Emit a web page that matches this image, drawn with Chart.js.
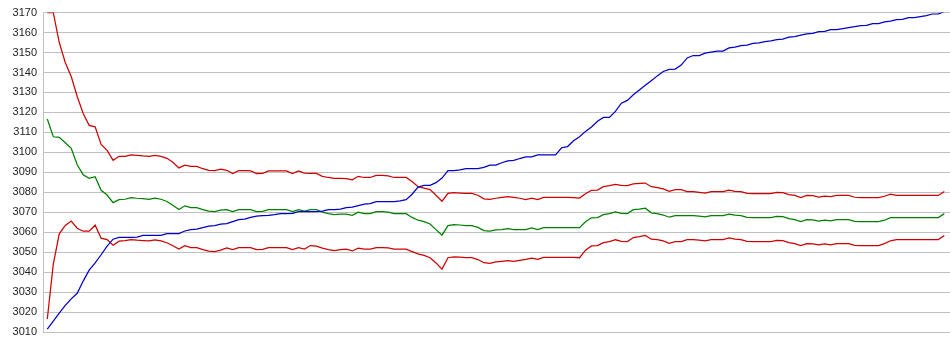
<!DOCTYPE html>
<html>
<head>
<meta charset="utf-8">
<script src="https://cdn.jsdelivr.net/npm/chart.js@4/dist/chart.umd.min.js"></script>
<style>
  html, body { margin: 0; padding: 0; background: #ffffff; }
  #wrap { width: 950px; height: 355px; }
</style>
</head>
<body>
<div id="wrap"><canvas id="c" width="950" height="355"></canvas></div>
<script>
// x categories: sample index 0..150
const categories = Array.from({length: 151}, (_, i) => i);

const yTicks = [3010, 3020, 3030, 3040, 3050, 3060, 3070, 3080, 3090, 3100, 3110, 3120, 3130, 3140, 3150, 3160, 3170];

const upperBand = [
  3170, 3170, 3155, 3145, 3138, 3128, 3119.5, 3113.5, 3112.8, 3104,
  3101, 3096, 3098, 3098, 3098.7, 3098.5, 3098.2, 3098, 3098.5, 3098,
  3097, 3095, 3092.2, 3093.6, 3093, 3093, 3091.8, 3091, 3090.8, 3091.6,
  3091, 3089.4, 3090.8, 3090.8, 3090.7, 3089.4, 3089.5, 3090.7, 3090.7, 3090.7,
  3090.7, 3089.4, 3090.7, 3089.6, 3089.4, 3089.4, 3088, 3087.4, 3087, 3087,
  3086.8, 3086.2, 3088, 3087.4, 3087.4, 3088.4, 3088.4, 3088.2, 3087.4, 3087.4,
  3087.4, 3085.4, 3082.8, 3082.1, 3081.3, 3078.5, 3075.5, 3079.4, 3079.8, 3079.6,
  3079.4, 3079.4, 3078.5, 3076.7, 3076.4, 3077, 3077.4, 3077.8, 3077.4, 3077,
  3076.3, 3077.1, 3076.3, 3077.4, 3077.4, 3077.4, 3077.4, 3077.4, 3077.3, 3077.1,
  3079.3, 3081, 3081.1, 3082.8, 3083.3, 3084, 3083.4, 3083.3, 3084.2, 3084.4,
  3084.6, 3082.8, 3082.3, 3081.7, 3080.5, 3081.3, 3081.3, 3080.3, 3080.3, 3080,
  3079.6, 3080.3, 3080.3, 3080.3, 3081.1, 3080.5, 3080.3, 3079.4, 3079.3, 3079.3,
  3079.3, 3079.3, 3079.9, 3079.8, 3078.8, 3078.4, 3077.3, 3078.4, 3078.3, 3077.6,
  3078.1, 3077.8, 3078.4, 3078.4, 3078.4, 3077.5, 3077.3, 3077.3, 3077.3, 3077.3,
  3078, 3079.1, 3078.4, 3078.4, 3078.4, 3078.4, 3078.4, 3078.4, 3078.4, 3078.4,
  3080.4
];

const middleBand = [
  3116.7, 3107.8, 3107.5, 3104.8, 3102, 3093.8, 3088.8, 3087, 3087.8, 3081,
  3078.6, 3074.8, 3076.3, 3076.5, 3077.3, 3077, 3076.8, 3076.5, 3077, 3076.5,
  3075.4, 3073.5, 3071.4, 3073.2, 3072.3, 3072.3, 3071.3, 3070.5, 3070.3, 3071,
  3071.3, 3070.3, 3071.3, 3071.3, 3071.3, 3070.3, 3070.4, 3071.3, 3071.3, 3071.3,
  3071.3, 3070.3, 3071.3, 3070.5, 3071.3, 3071.3, 3070, 3069.3, 3068.8, 3069,
  3069.1, 3068.4, 3070, 3069.3, 3069.3, 3070.3, 3070.3, 3070.1, 3069.3, 3069.3,
  3069.3, 3067.4, 3066, 3065.3, 3064.1, 3061.3, 3058.5, 3063.3, 3063.8, 3063.6,
  3063.3, 3063.3, 3062.4, 3060.8, 3060.5, 3061.1, 3061.3, 3061.8, 3061.3, 3061.3,
  3061.3, 3062.1, 3061.3, 3062.3, 3062.3, 3062.3, 3062.3, 3062.3, 3062.3, 3062.3,
  3065.2, 3067.2, 3067.3, 3068.8, 3069.3, 3070.2, 3069.4, 3069.3, 3071.3, 3071.5,
  3072, 3069.7, 3069.3, 3068.6, 3067.5, 3068.3, 3068.3, 3068.3, 3068.3, 3068,
  3067.7, 3068.3, 3068.3, 3068.3, 3069.1, 3068.5, 3068.3, 3067.4, 3067.3, 3067.3,
  3067.3, 3067.3, 3067.9, 3067.8, 3066.8, 3066.3, 3065.3, 3066.3, 3066.2, 3065.6,
  3066.1, 3065.7, 3066.3, 3066.3, 3066.3, 3065.4, 3065.3, 3065.3, 3065.3, 3065.3,
  3066, 3067.3, 3067.3, 3067.3, 3067.3, 3067.3, 3067.3, 3067.3, 3067.3, 3067.3,
  3069.3
];

const lowerBand = [
  3016.5, 3044, 3059.2, 3063.4, 3065.6, 3062, 3060.5, 3060.5, 3063.5, 3057,
  3056.3, 3053.5, 3055.5, 3055.8, 3056.3, 3056, 3055.8, 3055.6, 3056.1, 3055.6,
  3054.7, 3053.2, 3051.5, 3053.2, 3052.3, 3052.3, 3051.3, 3050.5, 3050.3, 3051,
  3052.1, 3051.3, 3052.3, 3052.3, 3052.3, 3051.3, 3051.4, 3052.3, 3052.3, 3052.3,
  3052.3, 3051.3, 3052.3, 3051.5, 3053.3, 3053, 3052, 3051.3, 3050.8, 3051.3,
  3051.5, 3050.6, 3052, 3051.5, 3051.5, 3052.3, 3052.3, 3052.1, 3051.5, 3051.5,
  3051.5, 3050.3, 3049.1, 3048.4, 3047.2, 3044.6, 3041.5, 3047.2, 3047.6, 3047.5,
  3047.2, 3047.2, 3046.3, 3044.7, 3044.4, 3045.1, 3045.4, 3045.7, 3045.4, 3045.9,
  3046.4, 3047, 3046.4, 3047.4, 3047.4, 3047.4, 3047.4, 3047.4, 3047.4, 3047.2,
  3051, 3053.1, 3053.3, 3054.8, 3055.3, 3056.2, 3055.4, 3055.3, 3057.3, 3057.8,
  3058.4, 3056.5, 3056.3, 3055.6, 3054.4, 3055.3, 3055.3, 3056.3, 3056.3, 3056,
  3055.7, 3056.3, 3056.3, 3056.3, 3057.1, 3056.5, 3056.3, 3055.4, 3055.3, 3055.3,
  3055.3, 3055.3, 3055.9, 3055.8, 3054.8, 3054.3, 3053.3, 3054.3, 3054.2, 3053.6,
  3054.1, 3053.7, 3054.3, 3054.3, 3054.3, 3053.4, 3053.3, 3053.3, 3053.3, 3053.3,
  3054.3, 3055.7, 3056.3, 3056.3, 3056.3, 3056.3, 3056.3, 3056.3, 3056.3, 3056.3,
  3058.3
];

const blueSeries = [
  3011.5, 3015.5, 3019.4, 3023.3, 3026.6, 3029.4, 3035.5, 3041, 3044.6, 3048.7,
  3053, 3056.5, 3057.4, 3057.4, 3057.4, 3057.5, 3058.4, 3058.4, 3058.4, 3058.4,
  3059.3, 3059.3, 3059.3, 3060.6, 3061.3, 3061.5, 3062.3, 3063, 3063.3, 3064,
  3064.3, 3065.3, 3066.3, 3066.6, 3067.4, 3068, 3068.3, 3068.4, 3068.8, 3069.3,
  3069.3, 3069.4, 3070.3, 3070.3, 3070.3, 3070.3, 3070.5, 3071.3, 3071.3, 3071.6,
  3072.3, 3072.6, 3073.3, 3074, 3074.3, 3075.3, 3075.3, 3075.3, 3075.3, 3075.7,
  3076.3, 3079, 3082.6, 3083.4, 3083.5, 3084.8, 3087.1, 3090.8, 3090.8, 3091.2,
  3091.8, 3091.8, 3091.8, 3092.5, 3093.6, 3093.6, 3094.8, 3095.7, 3096, 3096.9,
  3097.7, 3097.7, 3098.7, 3098.7, 3098.7, 3098.7, 3102.3, 3102.9, 3105.8, 3107.8,
  3110.5, 3112.7, 3115.6, 3117.5, 3117.5, 3120.5, 3124.6, 3126, 3128.8, 3131.2,
  3133.6, 3135.9, 3138.3, 3140.5, 3141.5, 3141.7, 3143.7, 3147.3, 3148.5, 3148.5,
  3149.7, 3150.2, 3150.7, 3150.7, 3152.3, 3152.7, 3153.4, 3153.7, 3154.6, 3154.8,
  3155.5, 3155.8, 3156.5, 3156.7, 3157.7, 3158, 3158.7, 3159.3, 3159.6, 3160.5,
  3160.6, 3161.5, 3161.5, 3162, 3162.5, 3163, 3163.5, 3163.6, 3164.5, 3164.5,
  3165.3, 3165.7, 3166.5, 3166.6, 3167.5, 3167.5, 3168, 3168.5, 3169.3, 3169.4,
  3170.5
];

const mk = (data, color) => ({
  data: data,
  borderColor: color,
  backgroundColor: color,
  borderWidth: 1.25,
  pointRadius: 0,
  pointHoverRadius: 0,
  tension: 0,
  fill: false
});

new Chart(document.getElementById('c'), {
  type: 'line',
  data: {
    labels: categories,
    datasets: [
      mk(blueSeries, '#0000c8'),
      mk(lowerBand, '#d00000'),
      mk(middleBand, '#008000'),
      mk(upperBand, '#d00000')
    ]
  },
  options: {
    responsive: false,
    animation: false,
    events: [],
    layout: { padding: { top: 10, bottom: 23, left: 0, right: 0 } },
    plugins: { legend: { display: false }, tooltip: { enabled: false }, title: { display: false } },
    scales: {
      x: {
        type: 'linear',
        display: false,
        min: -0.72,
        max: 150.95
      },
      y: {
        min: yTicks[0],
        max: yTicks[yTicks.length - 1],
        afterBuildTicks: (s) => { s.ticks = yTicks.map(v => ({ value: v })); },
        afterFit: (s) => { s.width = 43; },
        ticks: {
          padding: 6,
          color: '#222222',
          font: { family: '"Liberation Sans", Arial, sans-serif', size: 11 },
          callback: (v) => String(v)
        },
        grid: { color: '#c0c0c0', lineWidth: 1, drawTicks: false },
        border: { display: true, color: '#c0c0c0', width: 1 }
      }
    }
  }
});
</script>
</body>
</html>
